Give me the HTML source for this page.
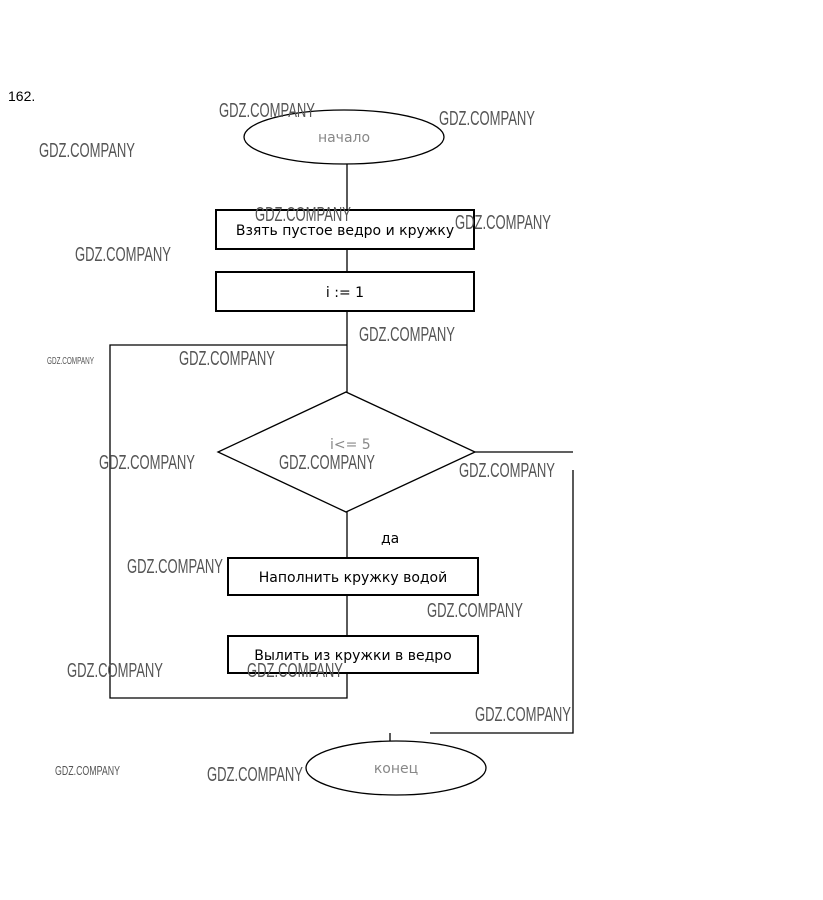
<!DOCTYPE html>
<html><head><meta charset="utf-8"><style>
html,body{margin:0;padding:0;background:#fff;}
svg{display:block;}
.w{font-family:"Liberation Sans",sans-serif;font-size:20px;fill:#555;}
.t{font-family:"DejaVu Sans","Liberation Sans",sans-serif;font-size:14px;fill:#000;}
</style></head><body>
<svg width="823" height="900" viewBox="0 0 823 900" xmlns="http://www.w3.org/2000/svg">
<text x="8" y="101" font-family="Liberation Sans,sans-serif" font-size="14" fill="#000">162.</text>
<g stroke="#000" fill="none" stroke-width="1.3">
<ellipse cx="344" cy="137" rx="100" ry="27"/>
<line x1="347" y1="164" x2="347" y2="210"/>
<line x1="347" y1="249" x2="347" y2="272"/>
<line x1="347" y1="311" x2="347" y2="392"/>
<polyline points="347,345 110,345 110,698 347,698 347,673"/>
<polygon points="346,392 475,452 346,512 218,452"/>
<polyline points="475,452 573,452"/>
<polyline points="573,470 573,733 430,733"/>
<line x1="390" y1="733" x2="390" y2="741"/>
<line x1="347" y1="512" x2="347" y2="558"/>
<line x1="347" y1="595" x2="347" y2="636"/>
<ellipse cx="396" cy="768" rx="90" ry="27"/>
</g>
<g stroke="#000" fill="#fff" stroke-width="2">
<rect x="216" y="210" width="258" height="39"/>
<rect x="216" y="272" width="258" height="39"/>
<rect x="228" y="558" width="250" height="37"/>
<rect x="228" y="636" width="250" height="37"/>
</g>
<text class="t" x="345" y="235" text-anchor="middle">Взять пустое ведро и кружку</text>
<text class="t" x="345" y="297" text-anchor="middle">i := 1</text>
<text class="t" x="353" y="582" text-anchor="middle">Наполнить кружку водой</text>
<text class="t" x="353" y="660" text-anchor="middle">Вылить из кружки в ведро</text>
<text class="t" x="381" y="543">да</text>
<text class="t" x="344" y="142" text-anchor="middle" style="fill:#888">начало</text>
<text class="t" x="396" y="773" text-anchor="middle" style="fill:#888">конец</text>
<text class="t" x="330" y="449" style="fill:#888">i&lt;= 5</text>
<g class="w">
<text x="219" y="117" textLength="96" lengthAdjust="spacingAndGlyphs">GDZ.COMPANY</text>
<text x="439" y="125" textLength="96" lengthAdjust="spacingAndGlyphs">GDZ.COMPANY</text>
<text x="39" y="157" textLength="96" lengthAdjust="spacingAndGlyphs">GDZ.COMPANY</text>
<text x="255" y="221" textLength="96" lengthAdjust="spacingAndGlyphs">GDZ.COMPANY</text>
<text x="455" y="229" textLength="96" lengthAdjust="spacingAndGlyphs">GDZ.COMPANY</text>
<text x="75" y="261" textLength="96" lengthAdjust="spacingAndGlyphs">GDZ.COMPANY</text>
<text x="359" y="341" textLength="96" lengthAdjust="spacingAndGlyphs">GDZ.COMPANY</text>
<text x="179" y="365" textLength="96" lengthAdjust="spacingAndGlyphs">GDZ.COMPANY</text>
<text x="99" y="469" textLength="96" lengthAdjust="spacingAndGlyphs">GDZ.COMPANY</text>
<text x="279" y="469" textLength="96" lengthAdjust="spacingAndGlyphs">GDZ.COMPANY</text>
<text x="459" y="477" textLength="96" lengthAdjust="spacingAndGlyphs">GDZ.COMPANY</text>
<text x="127" y="573" textLength="96" lengthAdjust="spacingAndGlyphs">GDZ.COMPANY</text>
<text x="427" y="617" textLength="96" lengthAdjust="spacingAndGlyphs">GDZ.COMPANY</text>
<text x="67" y="677" textLength="96" lengthAdjust="spacingAndGlyphs">GDZ.COMPANY</text>
<text x="247" y="677" textLength="96" lengthAdjust="spacingAndGlyphs">GDZ.COMPANY</text>
<text x="475" y="721" textLength="96" lengthAdjust="spacingAndGlyphs">GDZ.COMPANY</text>
<text x="207" y="781" textLength="96" lengthAdjust="spacingAndGlyphs">GDZ.COMPANY</text>
<text x="47" y="364" textLength="47" lengthAdjust="spacingAndGlyphs" style="font-size:10px">GDZ.COMPANY</text>
<text x="55" y="775" textLength="65" lengthAdjust="spacingAndGlyphs" style="font-size:13px">GDZ.COMPANY</text>
</g>
</svg>
</body></html>
